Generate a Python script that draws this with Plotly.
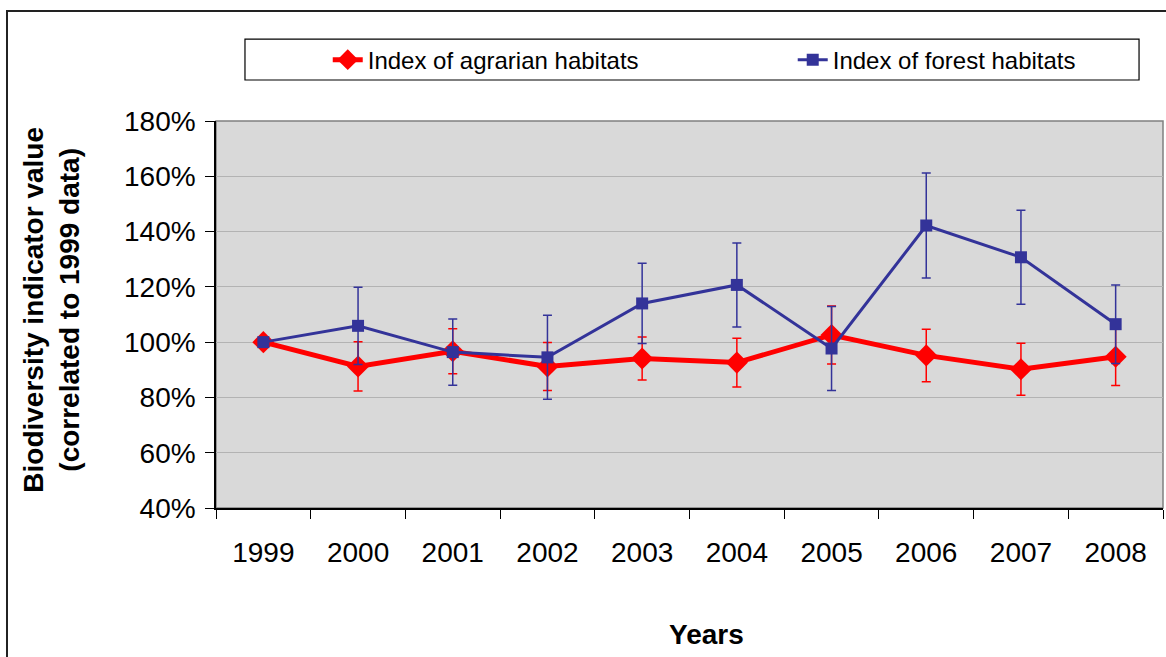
import plotly.graph_objects as go

years = ["1999", "2000", "2001", "2002", "2003", "2004", "2005", "2006", "2007", "2008"]
agrarian = [100, 91.2, 96.7, 91.2, 94.1, 92.6, 102.6, 95.2, 90.2, 94.7]
agrarian_err = [0, 8.9, 8.1, 8.7, 7.8, 8.8, 10.5, 9.5, 9.4, 10.4]
forest = [100, 105.9, 96.4, 94.5, 114.0, 120.7, 97.7, 142.2, 130.7, 106.5]
forest_err = [0, 14.0, 12.0, 15.2, 14.5, 15.2, 15.2, 19.0, 17.0, 14.2]
y_ticks = [40, 60, 80, 100, 120, 140, 160, 180]
y_tick_text = [f"{v}%" for v in y_ticks]

FONT = "Liberation Sans, Arial, sans-serif"
RED = "#ff0000"
BLUE = "#333399"

fig = go.Figure()
fig.add_trace(go.Scatter(
    x=years, y=agrarian, name="Index of agrarian habitats",
    mode="lines+markers", legend="legend",
    line=dict(color=RED, width=5),
    marker=dict(symbol="diamond", size=17, color=RED),
    error_y=dict(type="data", array=agrarian_err, visible=True,
                 color=RED, thickness=1.5, width=4.5),
))
fig.add_trace(go.Scatter(
    x=years, y=forest, name="Index of forest habitats",
    mode="lines+markers", legend="legend2",
    line=dict(color=BLUE, width=3),
    marker=dict(symbol="square", size=12, color=BLUE),
    error_y=dict(type="data", array=forest_err, visible=True,
                 color=BLUE, thickness=1.5, width=4.5),
))

leg_common = dict(
    orientation="h", yanchor="middle", y=1.1575, xanchor="left",
    font=dict(size=24, family=FONT), bgcolor="rgba(0,0,0,0)",
)

fig.update_layout(
    width=1166, height=657,
    margin=dict(l=216, r=3, t=121, b=149),
    paper_bgcolor="white",
    plot_bgcolor="#d9d9d9",
    font=dict(family=FONT, color="black"),
    showlegend=True,
    legend=dict(x=0.118, **leg_common),
    legend2=dict(x=0.609, **leg_common),
    xaxis=dict(
        type="category", range=[-0.5, 9.5], tickson="boundaries",
        ticks="outside", ticklen=9, tickcolor="black", tickwidth=1,
        showline=True, linecolor="black", linewidth=1.5,
        showgrid=False, tickfont=dict(size=28, family=FONT),
        ticklabelstandoff=19, automargin=False,
    ),
    yaxis=dict(
        range=[40, 180], tickmode="array", tickvals=y_ticks, ticktext=y_tick_text,
        ticks="outside", ticklen=9, tickcolor="black", tickwidth=1,
        showline=True, linecolor="black", linewidth=1.5,
        showgrid=True, gridcolor="#b3b3b3", gridwidth=1,
        zeroline=False, tickfont=dict(size=28, family=FONT),
        ticklabelstandoff=4, automargin=False,
    ),
    shapes=[
        dict(type="rect", xref="paper", yref="paper", x0=0, x1=1, y0=0, y1=1,
             line=dict(color="#808080", width=1.5), layer="below"),
        dict(type="rect", xref="paper", yref="paper", x0=0.0306, x1=0.9747,
             y0=1.1059, y1=1.2117, line=dict(color="black", width=1.2)),
        dict(type="rect", xref="paper", yref="paper", x0=-0.2207, x1=1.02,
             y0=-0.42, y1=1.284, line=dict(color="#222222", width=2)),
    ],
    annotations=[
        dict(text="<b>Biodiversity indicator value<br>(correlated to 1999 data)</b>",
             xref="paper", yref="paper", x=-0.174, y=0.513, textangle=-90,
             showarrow=False, xanchor="center", yanchor="middle",
             font=dict(size=28, family=FONT)),
        dict(text="<b>Years</b>", xref="paper", yref="paper", x=0.518, y=-0.327,
             showarrow=False, xanchor="center", yanchor="middle",
             font=dict(size=28, family=FONT)),
    ],
)

fig.write_html("out.html", config={"displayModeBar": False},
               post_script="document.body.style.margin='0';")
